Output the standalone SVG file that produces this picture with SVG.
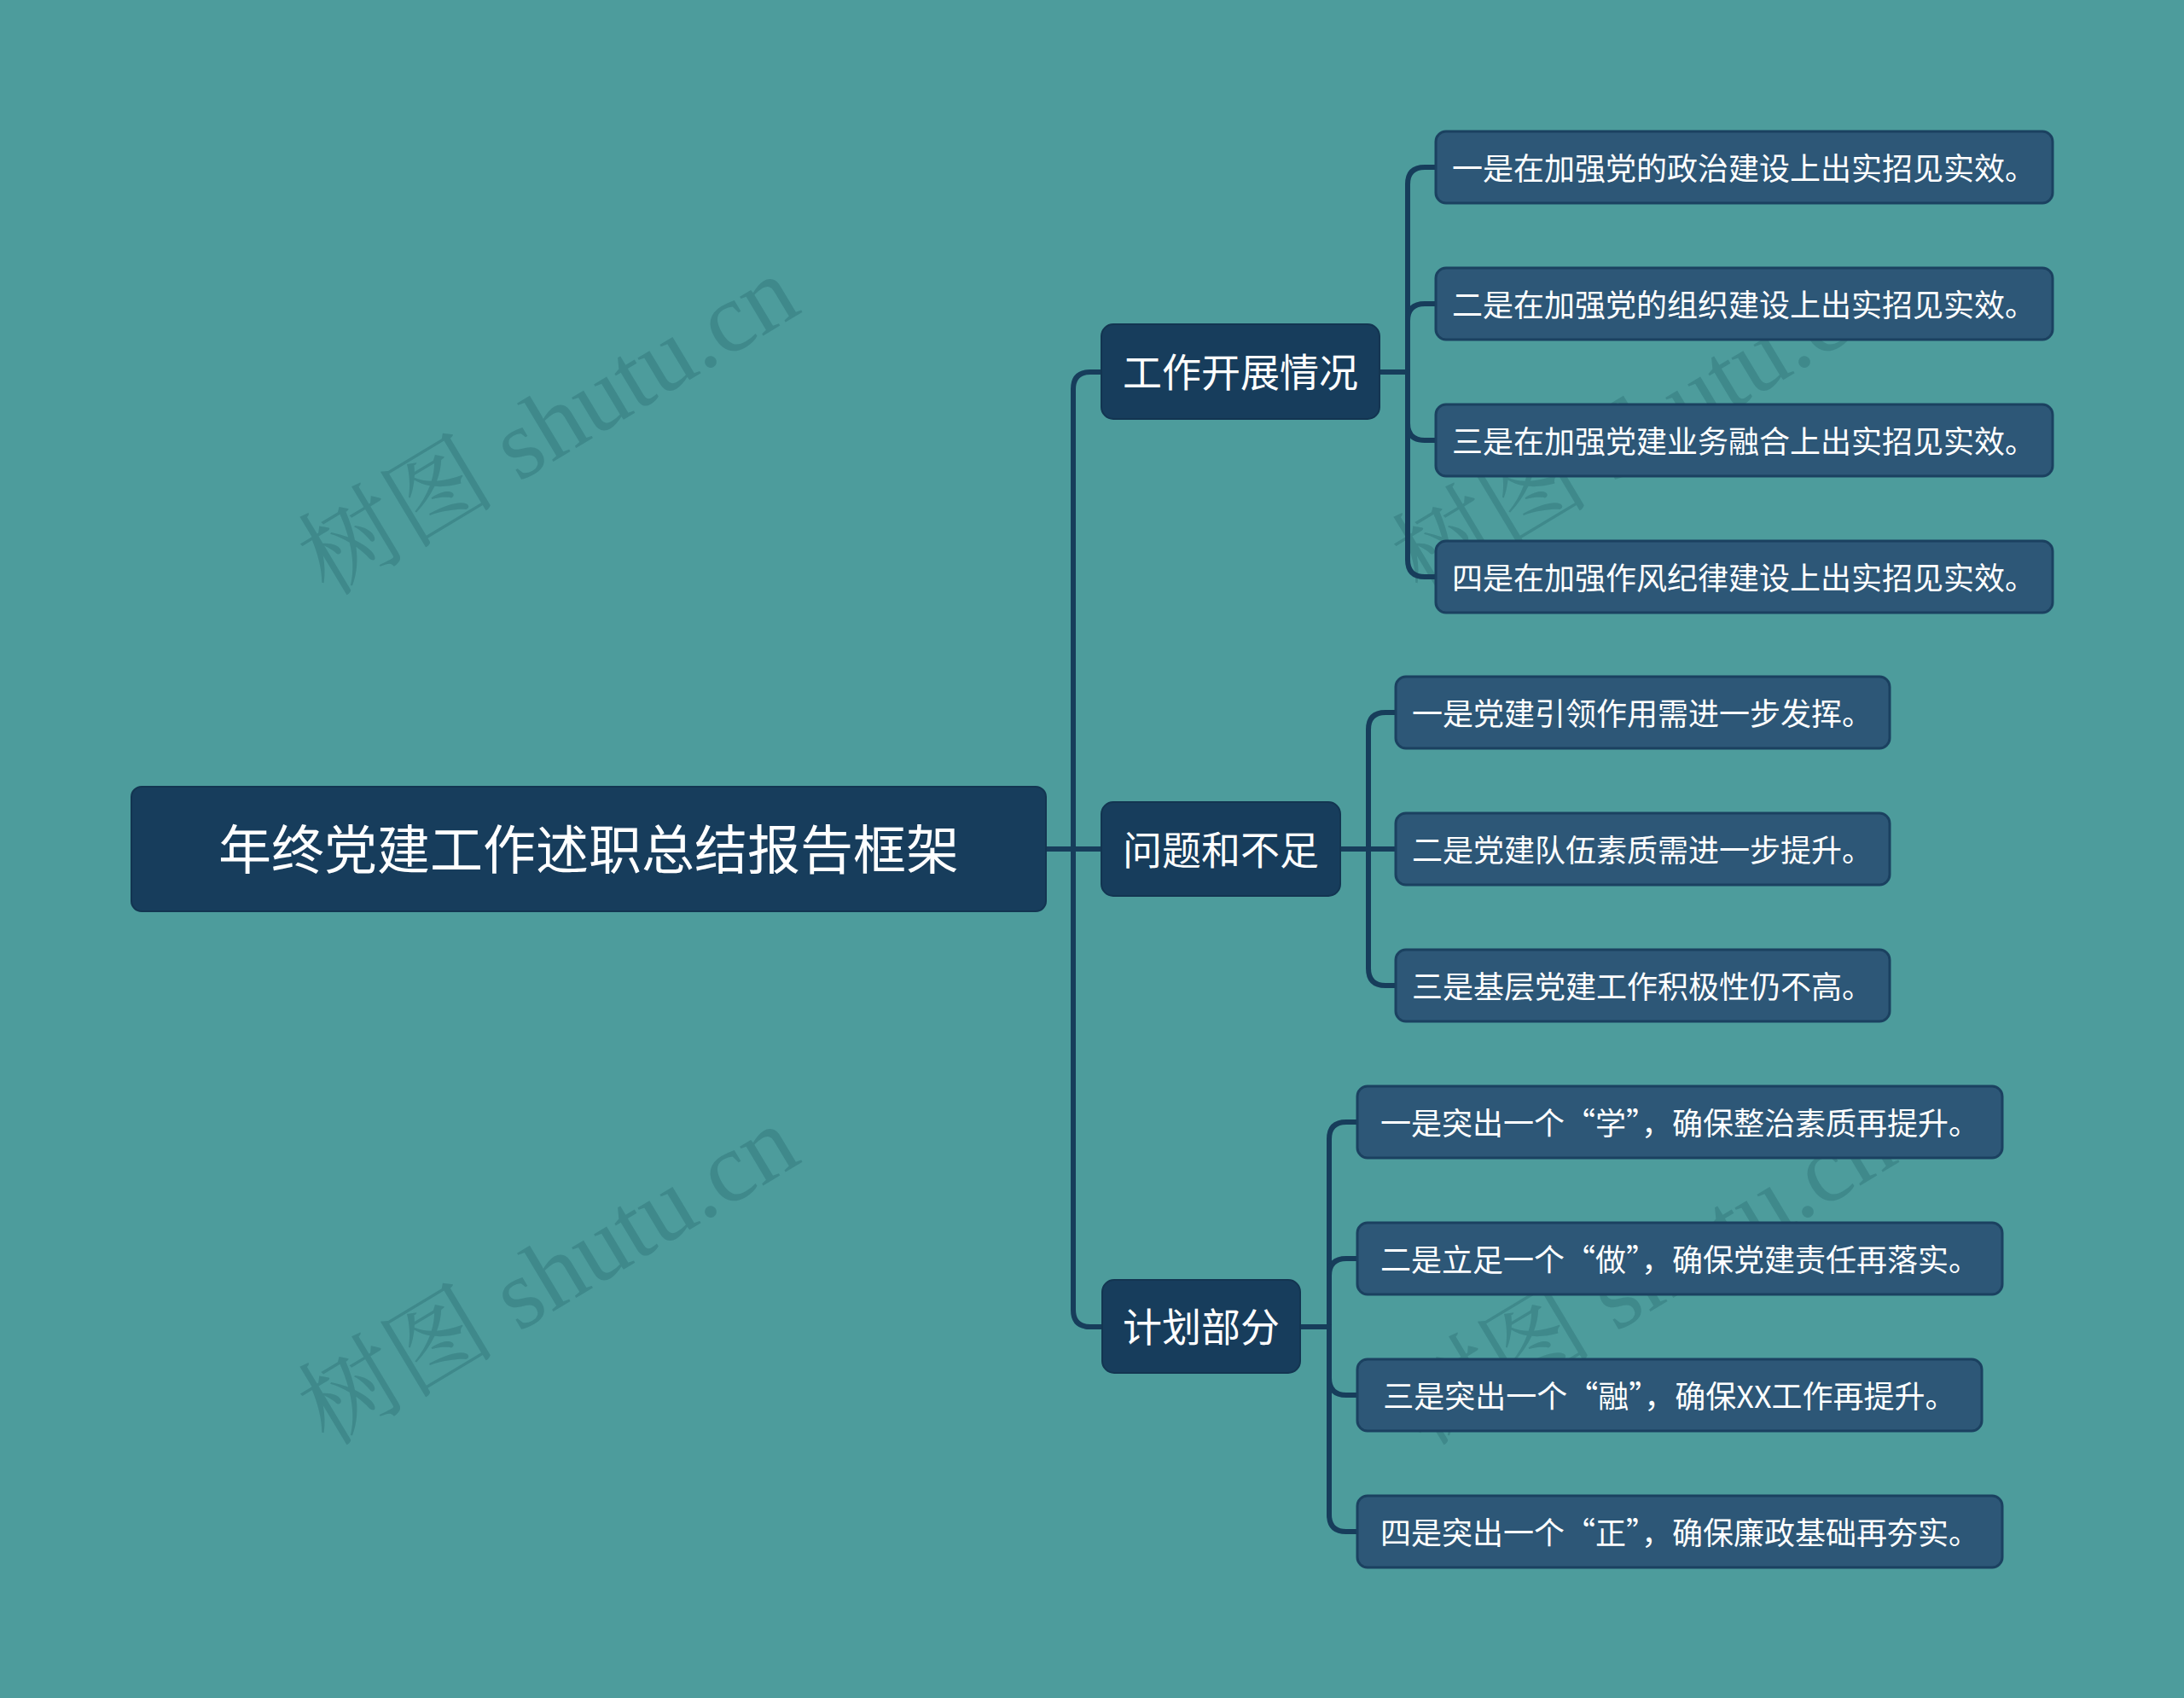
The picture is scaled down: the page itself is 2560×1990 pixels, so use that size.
<svg xmlns="http://www.w3.org/2000/svg" width="2560" height="1990" viewBox="0 0 2560 1990">
<style>
.bg{fill:#4d9c9c}
.wm{font-family:"Liberation Serif","Noto Serif CJK SC","Noto Sans CJK SC",serif;font-size:116px;fill:#3c8588;opacity:0.8}
.root{fill:#173d5c;stroke:#133551;stroke-width:2}
.l1{fill:#173d5c;stroke:#133551;stroke-width:2}
.leaf{fill:#2d5777;stroke:#1b4160;stroke-width:3}
.t{font-family:"Noto Sans CJK SC","Noto Sans",sans-serif;fill:#ffffff;text-anchor:middle;dominant-baseline:central}
.t0{font-size:62px}
.t1{font-size:46px}
.t2{font-size:36px}
.edge{fill:none;stroke:#173d5b;stroke-width:6;stroke-linejoin:round}
</style>
<rect class="bg" x="0" y="0" width="2560" height="1990"/>
<g id="watermarks">
<text class="wm" transform="translate(384,700) rotate(-31)">树图 shutu.cn</text>
<text class="wm" transform="translate(384,1696) rotate(-31)">树图 shutu.cn</text>
<text class="wm" transform="translate(1666,700) rotate(-31)">树图 shutu.cn</text>
<text class="wm" transform="translate(1670,1696) rotate(-31)">树图 shutu.cn</text>
</g>
<g id="connectors">
<path class="edge" d="M1226,995 H1258 V456 Q1258,436 1278,436 H1292"/>
<path class="edge" d="M1226,995 H1292"/>
<path class="edge" d="M1226,995 H1258 V1535 Q1258,1555 1278,1555 H1293"/>
<path class="edge" d="M1617,436 H1650 V216 Q1650,196 1670,196 H1684"/>
<path class="edge" d="M1617,436 H1650 V376 Q1650,356 1670,356 H1684"/>
<path class="edge" d="M1617,436 H1650 V496 Q1650,516 1670,516 H1684"/>
<path class="edge" d="M1617,436 H1650 V656 Q1650,676 1670,676 H1684"/>
<path class="edge" d="M1571,995 H1604 V855 Q1604,835 1624,835 H1637"/>
<path class="edge" d="M1571,995 H1637"/>
<path class="edge" d="M1571,995 H1604 V1135 Q1604,1155 1624,1155 H1637"/>
<path class="edge" d="M1524,1555 H1558 V1335 Q1558,1315 1578,1315 H1592"/>
<path class="edge" d="M1524,1555 H1558 V1495 Q1558,1475 1578,1475 H1592"/>
<path class="edge" d="M1524,1555 H1558 V1615 Q1558,1635 1578,1635 H1592"/>
<path class="edge" d="M1524,1555 H1558 V1775 Q1558,1795 1578,1795 H1592"/>
</g>
<g id="root">
<rect class="root" x="154" y="922" width="1072" height="146" rx="12"/>
<text class="t t0" x="690" y="992">年终党建工作述职总结报告框架</text>
</g>
<g id="n1">
<rect class="l1" x="1291" y="380" width="326" height="111" rx="14"/>
<text class="t t1" x="1454" y="433">工作开展情况</text>
</g>
<g id="n2">
<rect class="l1" x="1291" y="940" width="280" height="110" rx="14"/>
<text class="t t1" x="1431" y="993">问题和不足</text>
</g>
<g id="n3">
<rect class="l1" x="1292" y="1500" width="232" height="109" rx="14"/>
<text class="t t1" x="1408" y="1552">计划部分</text>
</g>
<g id="n1a">
<rect class="leaf" x="1683" y="154" width="723" height="84" rx="12"/>
<text class="t t2" x="2044" y="195">一是在加强党的政治建设上出实招见实效。</text>
</g>
<g id="n1b">
<rect class="leaf" x="1683" y="314" width="723" height="84" rx="12"/>
<text class="t t2" x="2044" y="355">二是在加强党的组织建设上出实招见实效。</text>
</g>
<g id="n1c">
<rect class="leaf" x="1683" y="474" width="723" height="84" rx="12"/>
<text class="t t2" x="2044" y="515">三是在加强党建业务融合上出实招见实效。</text>
</g>
<g id="n1d">
<rect class="leaf" x="1683" y="634" width="723" height="84" rx="12"/>
<text class="t t2" x="2044" y="675">四是在加强作风纪律建设上出实招见实效。</text>
</g>
<g id="n2a">
<rect class="leaf" x="1636" y="793" width="579" height="84" rx="12"/>
<text class="t t2" x="1925" y="834">一是党建引领作用需进一步发挥。</text>
</g>
<g id="n2b">
<rect class="leaf" x="1636" y="953" width="579" height="84" rx="12"/>
<text class="t t2" x="1925" y="994">二是党建队伍素质需进一步提升。</text>
</g>
<g id="n2c">
<rect class="leaf" x="1636" y="1113" width="579" height="84" rx="12"/>
<text class="t t2" x="1925" y="1154">三是基层党建工作积极性仍不高。</text>
</g>
<g id="n3a">
<rect class="leaf" x="1591" y="1273" width="756" height="84" rx="12"/>
<text class="t t2" x="1969" y="1314">一是突出一个“学”，确保整治素质再提升。</text>
</g>
<g id="n3b">
<rect class="leaf" x="1591" y="1433" width="756" height="84" rx="12"/>
<text class="t t2" x="1969" y="1474">二是立足一个“做”，确保党建责任再落实。</text>
</g>
<g id="n3c">
<rect class="leaf" x="1591" y="1593" width="732" height="84" rx="12"/>
<text class="t t2" x="1957" y="1634">三是突出一个“融”，确保XX工作再提升。</text>
</g>
<g id="n3d">
<rect class="leaf" x="1591" y="1753" width="756" height="84" rx="12"/>
<text class="t t2" x="1969" y="1794">四是突出一个“正”，确保廉政基础再夯实。</text>
</g>
</svg>
